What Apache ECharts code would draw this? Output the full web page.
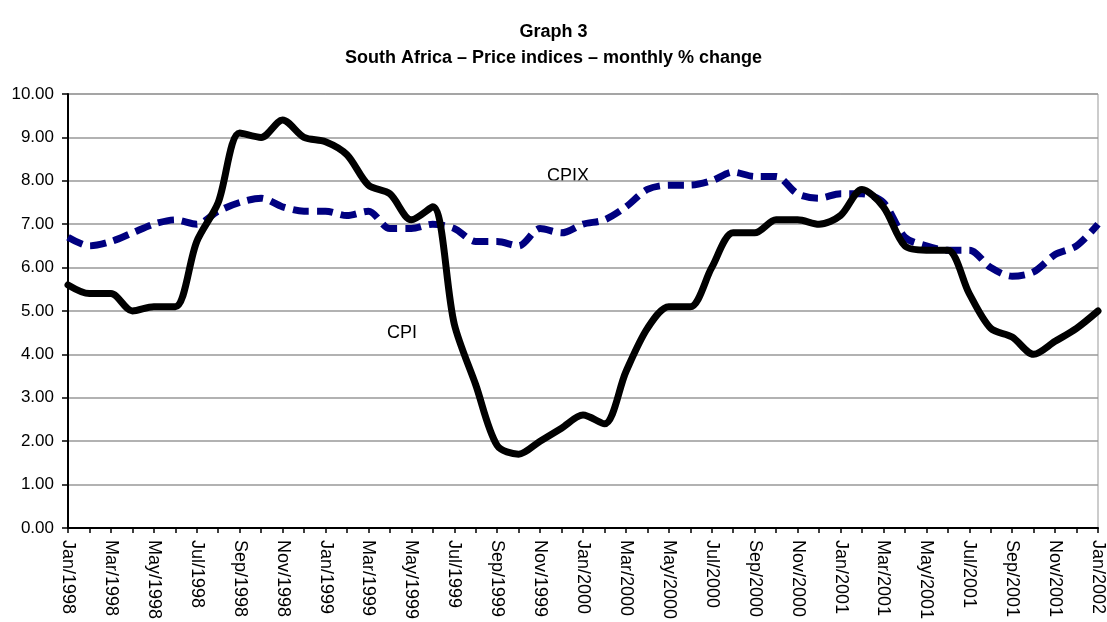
<!DOCTYPE html>
<html>
<head>
<meta charset="utf-8">
<title>Graph 3</title>
<script src="https://cdn.jsdelivr.net/npm/echarts@6/dist/echarts.min.js"></script>
<style>
  html, body { margin: 0; padding: 0; background: #fff; }
  #main { width: 1107px; height: 622px; }
</style>
</head>
<body>
<div id="main"></div>
<script>
// months, Jan/1998 .. Jan/2002
var monthNames = ['Jan', 'Feb', 'Mar', 'Apr', 'May', 'Jun', 'Jul', 'Aug', 'Sep', 'Oct', 'Nov', 'Dec'];
var months = [];
for (var y = 1998; y <= 2002; y++) {
	for (var m = 0; m < 12; m++) {
		months.push(monthNames[m] + '/' + y);
		if (y === 2002) break;
	}
}

// CPI, % change on a year earlier
var cpi = [
	5.6, 5.4, 5.4, 5.0, 5.1, 5.1, 6.6, 7.5, 9.1, 9.0, 9.4, 9.0,
	8.9, 8.6, 7.9, 7.7, 7.1, 7.4, 4.7, 3.3, 1.9, 1.7, 2.0, 2.3,
	2.6, 2.4, 3.6, 4.6, 5.1, 5.1, 6.0, 6.8, 6.8, 7.1, 7.1, 7.0,
	7.2, 7.8, 7.4, 6.5, 6.4, 6.4, 5.4, 4.6, 4.4, 4.0, 4.3, 4.6,
	5.0
];

// CPIX
var cpix = [
	6.7, 6.5, 6.6, 6.8, 7.0, 7.1, 7.0, 7.3, 7.5, 7.6, 7.4, 7.3,
	7.3, 7.2, 7.3, 6.9, 6.9, 7.0, 6.9, 6.6, 6.6, 6.5, 6.9, 6.8,
	7.0, 7.1, 7.4, 7.8, 7.9, 7.9, 8.0, 8.2, 8.1, 8.1, 7.7, 7.6,
	7.7, 7.7, 7.5, 6.7, 6.5, 6.4, 6.4, 6.0, 5.8, 5.9, 6.3, 6.5,
	7.0
];

var fontName = "'Liberation Sans', Arial, sans-serif";

var myChart = echarts.init(document.getElementById('main'));

var option = {
	backgroundColor: '#fff',
	animation: false,
	title: {
		text: 'Graph 3\nSouth Africa \u2013 Price indices \u2013 monthly % change',
		left: 'center',
		top: 14,
		textStyle: {
			fontFamily: fontName,
			fontSize: 18,
			fontWeight: 'bold',
			color: '#000',
			lineHeight: 26
		}
	},
	grid: {
		left: 68,
		right: 7,
		top: 94,
		bottom: 91,
		show: true,
		borderColor: '#999',
		borderWidth: 1
	},
	xAxis: {
		type: 'category',
		data: months,
		boundaryGap: false,
		axisLine: { lineStyle: { color: '#000', width: 2 } },
		axisTick: { interval: 0, length: 5, lineStyle: { color: '#000', width: 1.5 } },
		axisLabel: {
			interval: 1,
			rotate: -90,
			margin: 12,
			fontFamily: fontName,
			fontSize: 18,
			color: '#000',
			hideOverlap: false,
			showMaxLabel: true
		},
		splitLine: { show: false }
	},
	yAxis: {
		type: 'value',
		min: 0,
		max: 10,
		interval: 1,
		axisLine: { show: true, lineStyle: { color: '#000', width: 2 } },
		axisTick: { show: true, length: 6, lineStyle: { color: '#000', width: 1.5 } },
		axisLabel: {
			margin: 14,
			fontFamily: fontName,
			fontSize: 17,
			color: '#000',
			formatter: function(v) { return v.toFixed(2); }
		},
		splitLine: { lineStyle: { color: '#999', width: 1.5 } }
	},
	series: [{
		name: 'CPIX',
		type: 'line',
		data: cpix,
		smooth: 0.3,
		symbol: 'none',
		lineStyle: { color: '#000080', width: 7, type: [16, 8], cap: 'butt' },
		z: 2
	}, {
		name: 'CPI',
		type: 'line',
		data: cpi,
		smooth: 0.3,
		symbol: 'none',
		lineStyle: { color: '#000', width: 7, cap: 'round', join: 'round' },
		z: 3
	}],
	graphic: [{
		type: 'text',
		left: 547,
		top: 167,
		style: { text: 'CPIX', font: '18px ' + fontName, fill: '#000' }
	}, {
		type: 'text',
		left: 387,
		top: 324,
		style: { text: 'CPI', font: '18px ' + fontName, fill: '#000' }
	}]
};

myChart.setOption(option);
</script>
</body>
</html>
